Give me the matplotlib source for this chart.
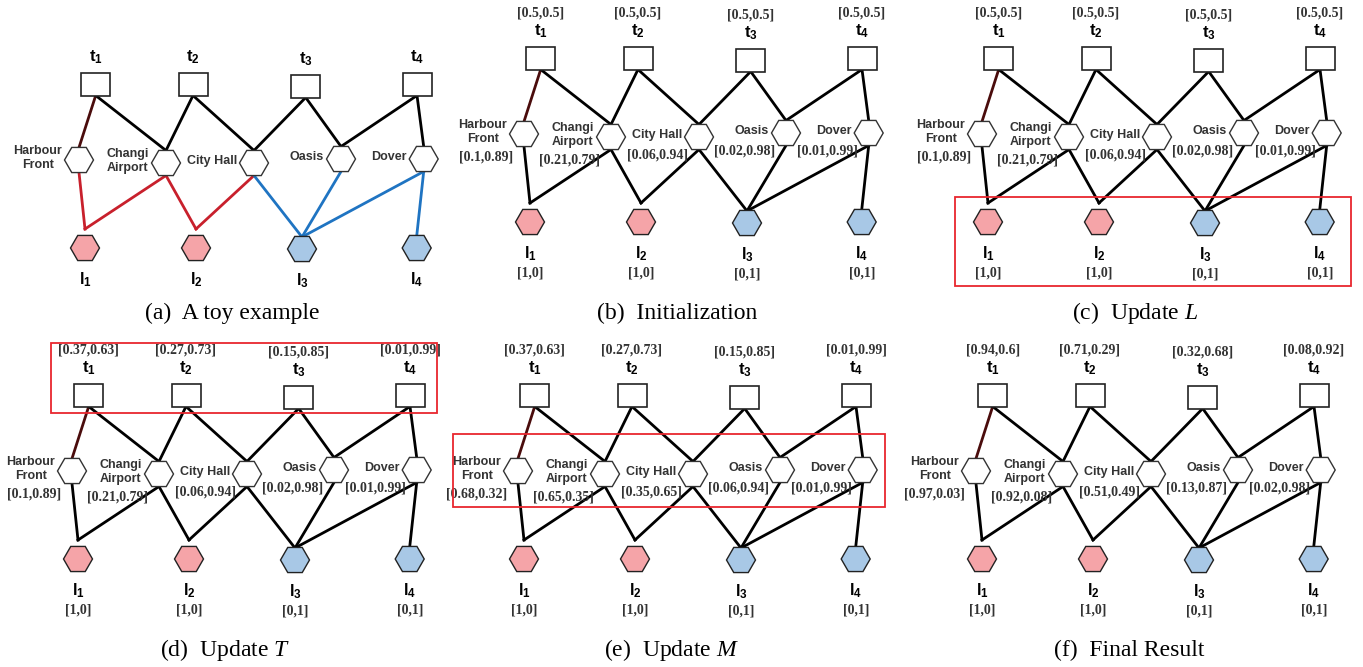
import matplotlib
matplotlib.use("Agg")
from matplotlib import pyplot as plt
from matplotlib.patches import RegularPolygon, Rectangle

plt.rcParams["mathtext.fontset"] = "custom"
plt.rcParams["mathtext.rm"] = "Liberation Serif"
plt.rcParams["mathtext.it"] = "Liberation Serif:italic"
plt.rcParams["mathtext.bf"] = "Liberation Sans:bold"

# nodes and data
t_names = ["1", "2", "3", "4"]
l_names = ["1", "2", "3", "4"]
station_names = ["Harbour\nFront", "Changi\nAirport", "City Hall", "Oasis", "Dover"]

t_vals_init = ["[0.5,0.5]", "[0.5,0.5]", "[0.5,0.5]", "[0.5,0.5]"]
t_vals_upd = ["[0.37,0.63]", "[0.27,0.73]", "[0.15,0.85]", "[0.01,0.99]"]
t_vals_final = ["[0.94,0.6]", "[0.71,0.29]", "[0.32,0.68]", "[0.08,0.92]"]

m_vals_init = ["[0.1,0.89]", "[0.21,0.79]", "[0.06,0.94]", "[0.02,0.98]", "[0.01,0.99]"]
m_vals_upd = ["[0.68,0.32]", "[0.65,0.35]", "[0.35,0.65]", "[0.06,0.94]", "[0.01,0.99]"]
m_vals_final = ["[0.97,0.03]", "[0.92,0.08]", "[0.51,0.49]", "[0.13,0.87]", "[0.02,0.98]"]

l_vals = ["[1,0]", "[1,0]", "[0,1]", "[0,1]"]
l_class = [0, 0, 1, 1]

# edges: (t, station) and (station, l)
t_edges = [(0, 0), (0, 1), (1, 1), (1, 2), (2, 2), (2, 3), (3, 3), (3, 4)]
l_edges = [(0, 0), (1, 0), (1, 1), (2, 1), (2, 2), (3, 2), (4, 2), (4, 3)]

# layout of one panel (pixels)
t_x = [90.7, 188, 300.7, 412]
t_y = [58, 58, 60, 58]
m_x = [74, 161, 249, 336, 418.7]
m_y = [134, 137, 137, 133, 133]
l_x = [80, 191, 297, 411.7]
l_y = [222, 222, 223, 222]
l_gap = [19, 19, 12, 12]

panels = [
    dict(off=(5, 26), cap="(a)  A toy example", tv=None, mv=None, lv=None, box=None, color=True, capy=313),
    dict(off=(450, 0), cap="(b)  Initialization", tv=t_vals_init, mv=m_vals_init, lv=l_vals, box=None, color=False, capy=313),
    dict(off=(908, 0), cap="(c)  Update $L$", tv=t_vals_init, mv=m_vals_init, lv=l_vals,
         box=(47, 196.7, 442.7, 285.7), color=False, capy=313),
    dict(off=(-2, 337), cap="(d)  Update $T$", tv=t_vals_upd, mv=m_vals_init, lv=l_vals,
         box=(53, 6.3, 438.7, 75.7), color=False, capy=650),
    dict(off=(444, 337), cap="(e)  Update $M$", tv=t_vals_upd, mv=m_vals_upd, lv=l_vals,
         box=(8.7, 97, 441, 169.7), color=False, capy=650),
    dict(off=(902, 337), cap="(f)  Final Result", tv=t_vals_final, mv=m_vals_final, lv=l_vals, box=None, color=False, capy=650),
]

fill_cols = ["#f5a4a8", "#a8c8e6"]
edge_cols = ["#c8202c", "#1f74c2"]
lab_col = "#333333"
hex_r = 14.5
sq_w, sq_h = 29, 23

fig = plt.figure(figsize=(13.63, 6.67), dpi=100)
ax = fig.add_axes([0, 0, 1, 1])
ax.set_xlim(0, 1363)
ax.set_ylim(667, 0)
ax.axis("off")

for p in panels:
    ox, oy = p["off"]
    tx = [x + ox for x in t_x]
    ty = [y + oy for y in t_y]
    mx = [x + ox for x in m_x]
    my = [y + oy for y in m_y]
    lx = [x + ox for x in l_x]
    ly = [y + oy for y in l_y]

    # upper edges
    for ti, si in t_edges:
        c = "#4a0c0c" if (ti, si) == (0, 0) else "black"
        ax.plot([tx[ti], mx[si]], [ty[ti] + sq_h / 2, my[si] - 12.5], color=c, lw=2, zorder=1)
    # lower edges
    for si, li in l_edges:
        c = edge_cols[l_class[li]] if p["color"] else "black"
        ax.plot([mx[si], lx[li]], [my[si] + 12.5, ly[li] - l_gap[li]], color=c, lw=2, zorder=1)

    # t squares
    for i in range(4):
        ax.add_patch(Rectangle((tx[i] - sq_w / 2, ty[i] - sq_h / 2), sq_w, sq_h,
                               facecolor="white", edgecolor="#222222", lw=1.2, zorder=2))
        ax.text(tx[i], ty[i] - 27, r"$\mathbf{t}_\mathbf{" + t_names[i] + "}$",
                ha="center", va="center", fontsize=12, color="black")
        if p["tv"] is not None:
            ax.text(tx[i], ty[i] - 45, p["tv"][i], ha="center", va="center", fontsize=10,
                    family="Liberation Serif", weight="bold", color=lab_col)

    # station hexagons
    for i in range(5):
        ax.add_patch(RegularPolygon((mx[i], my[i]), 6, radius=hex_r, orientation=0.5236,
                                    facecolor="white", edgecolor="#333333", lw=1.0, zorder=2))
        two = "\n" in station_names[i]
        ax.text(mx[i] - 17, my[i] - 2, station_names[i], ha="right", va="center", fontsize=9,
                family="Liberation Sans", weight="bold", color=lab_col, linespacing=1.3,
                multialignment="center")
        if p["mv"] is not None:
            ax.text(mx[i] - 11, my[i] + (23 if two else 18), p["mv"][i], ha="right", va="center",
                    fontsize=10, family="Liberation Serif", weight="bold", color=lab_col)

    # label hexagons
    for i in range(4):
        ax.add_patch(RegularPolygon((lx[i], ly[i]), 6, radius=hex_r, orientation=0.5236,
                                    facecolor=fill_cols[l_class[i]], edgecolor="#222222", lw=1.0, zorder=2))
        ax.text(lx[i], ly[i] + 32, r"$\mathbf{l}_\mathbf{" + l_names[i] + "}$",
                ha="center", va="center", fontsize=12, color="black")
        if p["lv"] is not None:
            ax.text(lx[i], ly[i] + 51, p["lv"][i], ha="center", va="center", fontsize=10,
                    family="Liberation Serif", weight="bold", color=lab_col)

    if p["box"] is not None:
        x0, y0, x1, y1 = p["box"]
        ax.add_patch(Rectangle((x0 + ox, y0 + oy), x1 - x0, y1 - y0, fill=False,
                               edgecolor="#e8262e", lw=1.3, zorder=3))

    ax.text(ox + 227, p["capy"], p["cap"], ha="center", va="center", fontsize=17,
            family="Liberation Serif", color="black")

fig.savefig("out.png", dpi=100)
